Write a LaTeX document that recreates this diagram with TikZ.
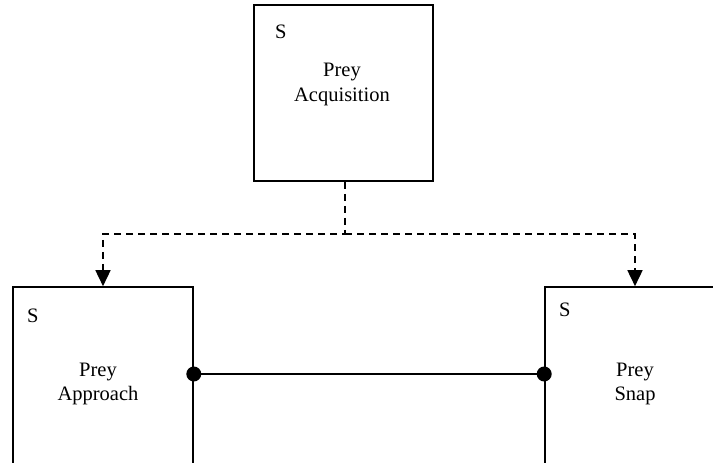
\documentclass[tikz,border=0pt]{standalone}
\usepackage{fontspec}
\setmainfont{Liberation Serif}
\usetikzlibrary{arrows.meta,calc}
\begin{document}
\begin{tikzpicture}[x=1pt,y=-1pt,
  block/.style={draw,line width=1.6pt,rectangle,inner sep=0pt},
  txt/.style={font=\fontsize{20.5}{25}\selectfont,anchor=base,inner sep=0pt},
  flow/.style={line width=1.6pt,dash pattern=on 7pt off 5pt,-{Triangle[width=15pt,length=16pt]}},
  link/.style={line width=1.4pt},
  dot/.style={circle,fill=black,inner sep=0pt,minimum size=15pt}]
\useasboundingbox (0,0) rectangle (713,463);
\fill[white] (0,0) rectangle (713,463);

% boxes
\node[block,minimum width=179pt,minimum height=176pt] (acq) at (343.5,93) {};
\node[block,minimum width=180pt,minimum height=180pt] (app) at (103,377) {};
\node[block,minimum width=180pt,minimum height=180pt] (snap) at (635,377) {};

% labels
\node[txt,anchor=base west] (acqS) at (275,38) {S};
\node[txt] (acqA) at (342,76) {Prey};
\node[txt] (acqB) at (342,101) {Acquisition};
\node[txt,anchor=base west] (appS) at (27,322) {S};
\node[txt] (appA) at (98,376) {Prey};
\node[txt] (appB) at (98,400) {Approach};
\node[txt,anchor=base west] (snapS) at (559,316) {S};
\node[txt] (snapA) at (635,376) {Prey};
\node[txt] (snapB) at (635,400) {Snap};

% dashed branching connectors
\coordinate (stem) at (345,234);
\draw[flow] (acq.south -| stem) -- (stem) -| (app.north);
\draw[flow] (stem) -| (snap.north);

% solid link with round ends
\coordinate (mid) at (0,374);
\draw[link] (app.east |- mid) -- (snap.west |- mid);
\node[dot] (d1) at (app.east |- mid) {};
\node[dot] (d2) at (snap.west |- mid) {};
\end{tikzpicture}
\end{document}
